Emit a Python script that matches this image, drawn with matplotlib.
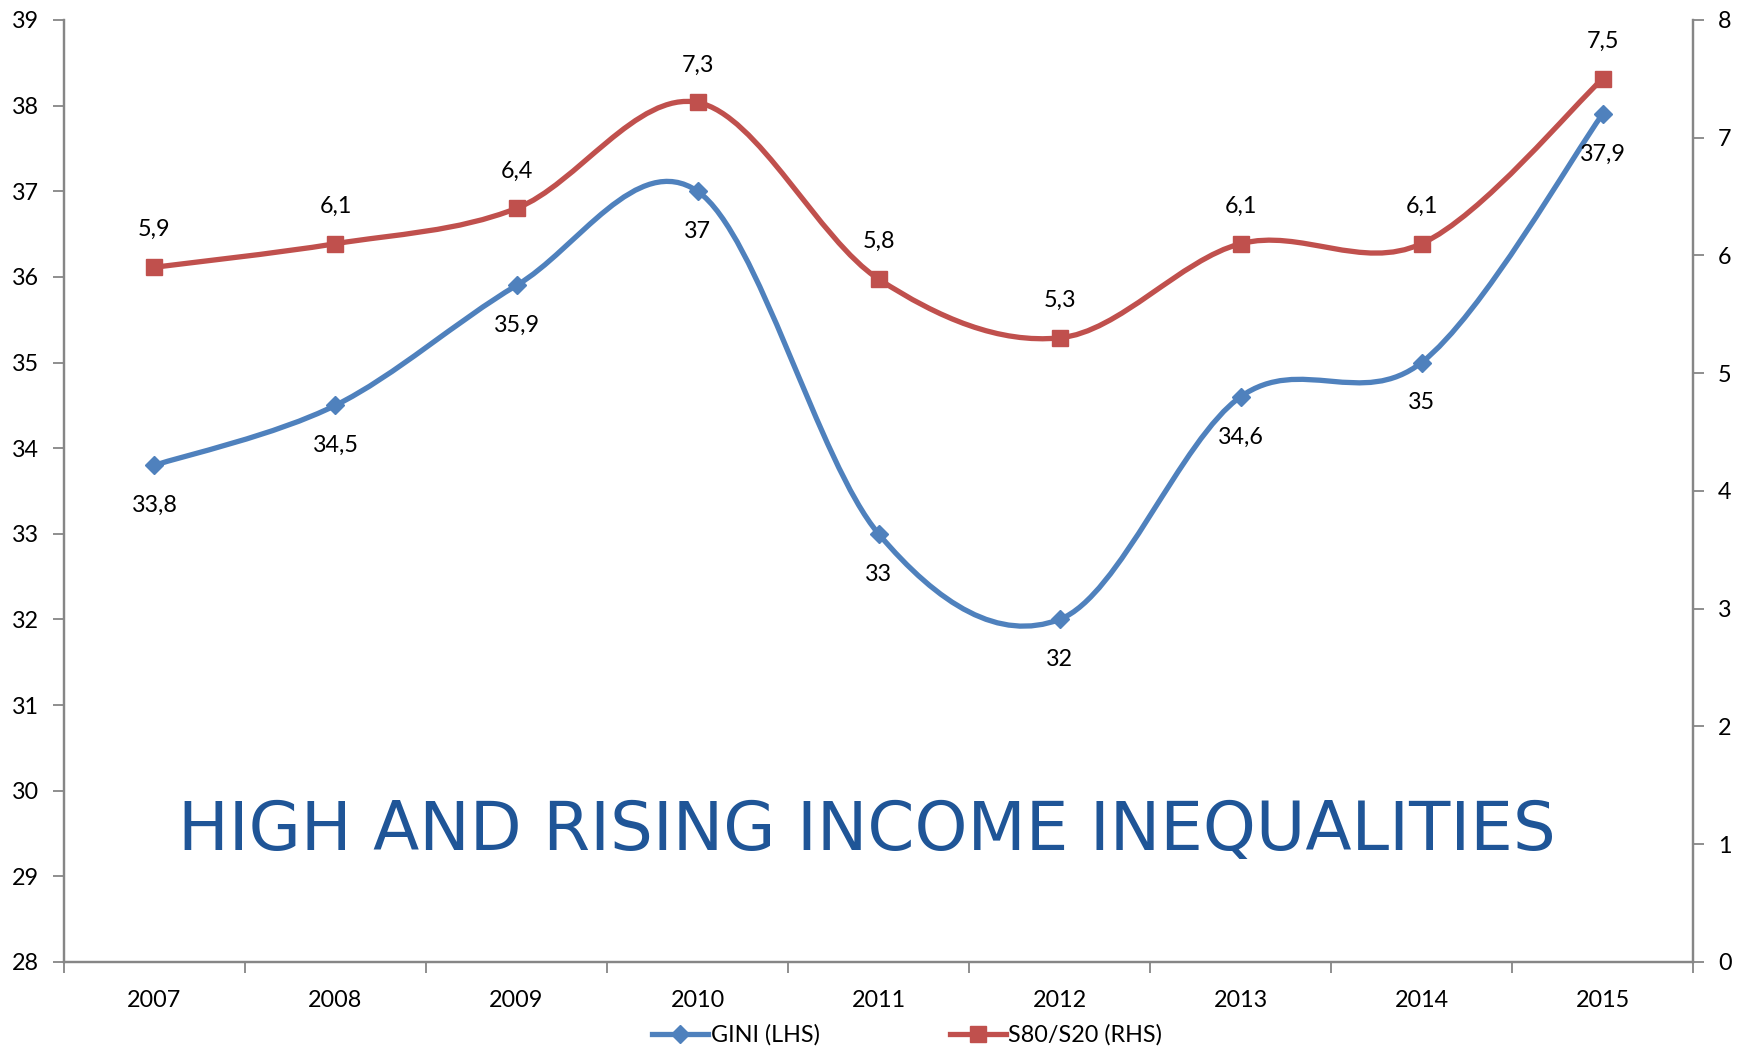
import numpy as np
import matplotlib
matplotlib.use("Agg")
import matplotlib.pyplot as plt
from matplotlib.path import Path
from matplotlib.patches import PathPatch
from matplotlib.lines import Line2D

years = ["2007", "2008", "2009", "2010", "2011", "2012", "2013", "2014", "2015"]
gini = [33.8, 34.5, 35.9, 37, 33, 32, 34.6, 35, 37.9]
s80s20 = [5.9, 6.1, 6.4, 7.3, 5.8, 5.3, 6.1, 6.1, 7.5]

BLUE = "#4F81BD"
RED = "#C0504D"
AXIS = "#868686"
FS = 16.8

plt.rcParams['font.family'] = ['Lato', 'DejaVu Sans']


def smooth_path(x, y):
    # Excel-style smoothed line: Catmull-Rom as cubic Bezier segments
    pts = np.column_stack([x, y]).astype(float)
    n = len(pts)
    verts = [pts[0]]
    codes = [Path.MOVETO]
    for i in range(n - 1):
        p0 = pts[i - 1] if i > 0 else pts[i]
        p1 = pts[i]
        p2 = pts[i + 1]
        p3 = pts[i + 2] if i + 2 < n else pts[i + 1]
        verts += [p1 + (p2 - p0) / 6, p2 - (p3 - p1) / 6, p2]
        codes += [Path.CURVE4] * 3
    return Path(verts, codes)


def fmt(v):
    s = ("%g" % v)
    return s.replace(".", ",")


fig = plt.figure(figsize=(17.48, 10.52), dpi=100)
ax = fig.add_axes([0.0366, 0.0856, 0.932, 0.8954])
ax2 = ax.twinx()

x = np.arange(len(years))

ax.add_patch(PathPatch(smooth_path(x, gini), fill=False, edgecolor=BLUE, lw=3.8,
                       capstyle='round', joinstyle='round', zorder=3))
ax.plot(x, gini, ls='none', marker='D', ms=9, color=BLUE, zorder=4)
ax2.add_patch(PathPatch(smooth_path(x, s80s20), fill=False, edgecolor=RED, lw=3.8,
                        capstyle='round', joinstyle='round', zorder=3))
ax2.plot(x, s80s20, ls='none', marker='s', ms=12, color=RED, zorder=4)

for xi, v in zip(x, gini):
    ax.annotate(fmt(v), (xi, v), xytext=(0, -29), textcoords='offset points',
                ha='center', va='center', fontsize=FS, color='black')
for xi, v in zip(x, s80s20):
    ax2.annotate(fmt(v), (xi, v), xytext=(0, 27), textcoords='offset points',
                 ha='center', va='center', fontsize=FS, color='black')

ax.set_xlim(-0.5, len(years) - 0.5)
ax.set_ylim(28, 39)
ax.set_yticks(range(28, 40))
ax2.set_ylim(0, 8)
ax2.set_yticks(range(0, 9))

ax.set_xticks(x)
ax.set_xticklabels(years)
ax.set_xticks(np.arange(-0.5, len(years)), minor=True)
ax.tick_params(axis='x', which='major', length=0, pad=20, labelsize=FS)
ax.tick_params(axis='x', which='minor', length=8, width=1.3, color=AXIS, direction='out')
ax.tick_params(axis='y', length=8, width=1.3, color=AXIS, direction='out', labelsize=FS, pad=10)
ax2.tick_params(axis='y', length=8, width=1.3, color=AXIS, direction='out', labelsize=FS, pad=10)

for a in (ax, ax2):
    a.spines['top'].set_visible(False)
    for s in ('left', 'right', 'bottom'):
        a.spines[s].set_color(AXIS)
        a.spines[s].set_linewidth(1.6)

ax.text(0.493, 0.139, "HIGH AND RISING INCOME INEQUALITIES", transform=ax.transAxes,
        ha='center', va='center', fontsize=48.6, color="#1F5597", family=['DejaVu Sans'])

handles = [
    Line2D([], [], color=BLUE, lw=3.8, marker='D', ms=9),
    Line2D([], [], color=RED, lw=3.8, marker='s', ms=12),
]
fig.legend(handles, ["GINI (LHS)", "S80/S20 (RHS)"], loc='center', bbox_to_anchor=(0.519, 0.016),
           ncol=2, frameon=False, fontsize=FS, handlelength=2.4, handletextpad=0.1,
           columnspacing=5.6)

fig.savefig("out.png", dpi=100)
